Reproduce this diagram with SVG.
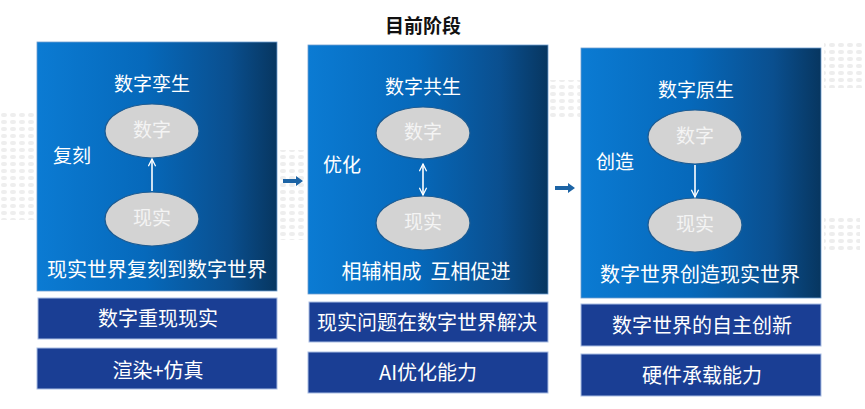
<svg xmlns="http://www.w3.org/2000/svg" width="865" height="409" viewBox="0 0 865 409">
<defs>
<linearGradient id="pg" x1="0" y1="0" x2="1" y2="0">
<stop offset="0" stop-color="#0b7bd3"/>
<stop offset="0.45" stop-color="#0669bb"/>
<stop offset="0.8" stop-color="#0a4f8f"/>
<stop offset="1" stop-color="#073660"/>
</linearGradient>
<pattern id="dots" width="9" height="7" patternUnits="userSpaceOnUse">
<rect x="1" y="1" width="6" height="4" rx="2" fill="#ececec"/>
</pattern>
<marker id="ah" viewBox="0 0 10 10" refX="9" refY="5" markerWidth="9" markerHeight="9" markerUnits="userSpaceOnUse" orient="auto-start-reverse">
<path d="M1,1 L9,5 L1,9" fill="none" stroke="#fff" stroke-width="1.4"/>
</marker>
</defs>
<style>
.t{font-family:"Noto Sans CJK SC","Liberation Sans",sans-serif;fill:#fff;text-anchor:middle}
.h{font-size:19px}
.s{font-size:19px}
.b{font-size:20px}
.panel{fill:url(#pg);stroke:#6f9fd0;stroke-width:0.8}
.box{fill:#1a3e94;stroke:#a9bde3;stroke-width:1}
.el{fill:#d3d3d3;stroke:#1d5c93;stroke-width:1.2}
.et{font-family:"Noto Sans CJK SC","Liberation Sans",sans-serif;fill:#f4f4f4;text-anchor:middle;font-size:19px}
.ln{stroke:#fff;stroke-width:1.6;fill:none}
.pa{fill:#1d64a5}
</style>
<rect width="865" height="409" fill="#fff"/>
<g id="bg-dots" opacity="0.9">
<rect x="0" y="110" width="36" height="110" fill="url(#dots)"/>
<rect x="278" y="150" width="28" height="90" fill="url(#dots)"/>
<rect x="550" y="80" width="30" height="40" fill="url(#dots)"/>
<rect x="824" y="43" width="41" height="45" fill="url(#dots)"/>
<rect x="824" y="215" width="36" height="35" fill="url(#dots)"/>
</g>
<text x="423" y="33" style="font-family:'Noto Sans CJK SC','Liberation Sans',sans-serif;font-size:19px;font-weight:bold;fill:#111;text-anchor:middle">目前阶段</text>

<g id="panel1">
<rect class="panel" x="37" y="42" width="240" height="249"/>
<text class="t h" x="152" y="91">数字孪生</text>
<text class="t s" x="72" y="163">复刻</text>
<text class="t b" x="157" y="277">现实世界复刻到数字世界</text>
</g>
<g id="p1-digital"><ellipse class="el" cx="152" cy="131" rx="47" ry="27"/><text class="et" x="152" y="137">数字</text></g>
<g id="p1-real"><ellipse class="el" cx="152" cy="219" rx="47" ry="27"/><text class="et" x="152" y="225">现实</text></g>
<g id="box1a"><rect class="box" x="38" y="298" width="239" height="41"/><text class="t b" x="158" y="326">数字重现现实</text></g>
<g id="box1b"><rect class="box" x="37" y="348" width="240" height="41"/><text class="t b" x="158" y="378">渲染+仿真</text></g>

<g id="panel2">
<rect class="panel" x="308" y="45" width="240" height="249"/>
<text class="t h" x="423" y="94">数字共生</text>
<text class="t s" x="342" y="172">优化</text>
<text class="t b" x="426" y="279" xml:space="preserve">相辅相成  互相促进</text>
</g>
<g id="p2-digital"><ellipse class="el" cx="423" cy="133" rx="47" ry="26"/><text class="et" x="423" y="139">数字</text></g>
<g id="p2-real"><ellipse class="el" cx="423" cy="223" rx="47" ry="27"/><text class="et" x="423" y="229">现实</text></g>
<g id="box2a"><rect class="box" x="309" y="302" width="239" height="40"/><text class="t b" x="427" y="330">现实问题在数字世界解决</text></g>
<g id="box2b"><rect class="box" x="308" y="352" width="240" height="41"/><text class="t b" x="428" y="380">AI优化能力</text></g>

<g id="panel3">
<rect class="panel" x="581" y="48" width="240" height="250"/>
<text class="t h" x="696" y="97">数字原生</text>
<text class="t s" x="615" y="169">创造</text>
<text class="t b" x="700" y="282">数字世界创造现实世界</text>
</g>
<g id="p3-digital"><ellipse class="el" cx="695" cy="137" rx="47" ry="27"/><text class="et" x="695" y="143">数字</text></g>
<g id="p3-real"><ellipse class="el" cx="695" cy="225" rx="47" ry="27"/><text class="et" x="695" y="231">现实</text></g>
<g id="box3a"><rect class="box" x="581" y="304" width="240" height="42"/><text class="t b" x="702" y="333">数字世界的自主创新</text></g>
<g id="box3b"><rect class="box" x="581" y="354" width="240" height="42"/><text class="t b" x="702" y="383">硬件承载能力</text></g>

<g id="connectors">
<line class="ln" x1="152" y1="191" x2="152" y2="159" marker-end="url(#ah)"/>
<line class="ln" x1="423" y1="164" x2="423" y2="195" marker-start="url(#ah)" marker-end="url(#ah)"/>
<line class="ln" x1="695" y1="165" x2="695" y2="197" marker-end="url(#ah)"/>
<path class="pa" d="M283,179 L296,179 L296,176 L303,181 L296,186 L296,183 L283,183 Z"/>
<path class="pa" d="M555,186 L568,186 L568,183 L575,188 L568,193 L568,190 L555,190 Z"/>
</g>
</svg>
